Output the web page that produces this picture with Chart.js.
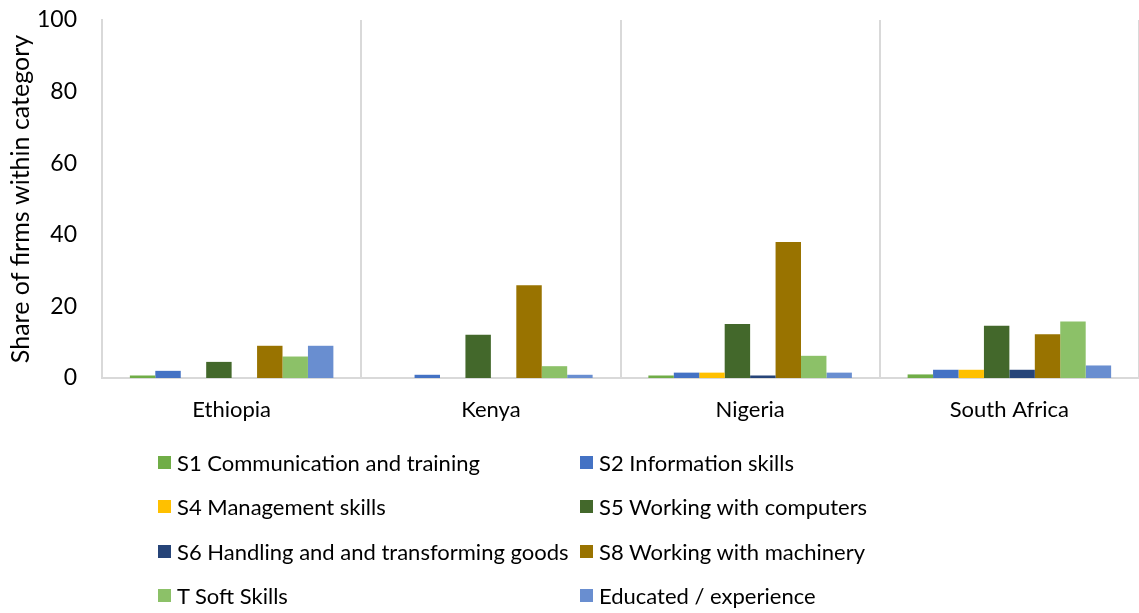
<!DOCTYPE html>
<html>
<head>
<meta charset="utf-8">
<script src="https://cdn.jsdelivr.net/npm/chart.js@4.4.1/dist/chart.umd.min.js"></script>
<style>
    html, body { margin: 0; padding: 0; background: #ffffff; }
    #wrap { position: relative; width: 1139px; height: 613px; }
    #legend {
        position: absolute; left: 158px; top: 447px;
        display: grid; grid-template-columns: 422px 400px; row-gap: 14.5px;
        font-family: Lato, sans-serif; font-size: 22px; color: #000;
    }
    .leg-item { display: flex; align-items: center; height: 30px; white-space: nowrap; }
    .leg-box { width: 13px; height: 13px; margin-right: 6px; }
</style>
</head>
<body>
<div id="wrap">
    <canvas id="chart" width="1139" height="613"></canvas>
    <div id="legend"></div>
</div>
<script>
"use strict";

const countries = ['Ethiopia', 'Kenya', 'Nigeria', 'South Africa'];
const yTicks = [0, 20, 40, 60, 80, 100];

const seriesNames = [
    'S1 Communication and training',
    'S2 Information skills',
    'S4 Management skills',
    'S5 Working with computers',
    'S6 Handling and and transforming goods',
    'S8 Working with machinery',
    'T Soft Skills',
    'Educated / experience'
];
const s1Comm = [0.7, 0, 0.7, 1.0];
const s2Info = [2.0, 0.9, 1.5, 2.3];
const s4Mgmt = [0, 0, 1.5, 2.3];
const s5Comp = [4.5, 12.1, 15.1, 14.6];
const s6Goods = [0, 0, 0.7, 2.3];
const s8Mach = [9.0, 25.9, 38.0, 12.2];
const tSoft = [6.0, 3.3, 6.2, 15.8];
const educated = [9.0, 0.9, 1.5, 3.5];

const seriesColors = ['#70AD47', '#4472C4', '#FFC000', '#43682B', '#264478', '#997300', '#8CC168', '#698ED0'];
const seriesValues = [s1Comm, s2Info, s4Mgmt, s5Comp, s6Goods, s8Mach, tSoft, educated];

document.addEventListener('DOMContentLoaded', function () {
    drawChart();
});

function drawChart() {
    const datasets = [];
    for (let i = 0; i < seriesNames.length; i++) {
        datasets.push({
            label: seriesNames[i],
            data: seriesValues[i],
            backgroundColor: seriesColors[i],
            borderWidth: 0,
            categoryPercentage: 0.785,
            barPercentage: 1.0
        });
    }

    const chart = new Chart(document.getElementById('chart'), {
        type: 'bar',
        data: { labels: countries, datasets: datasets },
        options: {
            responsive: false,
            animation: false,
            layout: { padding: { top: 20, right: 0, left: 6, bottom: 180 } },
            plugins: {
                legend: { display: false },
                tooltip: { enabled: false }
            },
            scales: {
                x: {
                    offset: true,
                    grid: { display: true, offset: true, color: '#d9d9d9', lineWidth: 2, drawTicks: false },
                    border: { display: true, color: '#d9d9d9', width: 2 },
                    ticks: { color: '#000', font: { family: 'Lato', size: 22 }, padding: 19 },
                    afterFit: function (scale) {
                        scale.height = 55;
                        scale.paddingLeft = 0;
                        scale.paddingRight = 0;
                    }
                },
                y: {
                    min: 0, max: 100,
                    afterBuildTicks: function (scale) {
                        scale.ticks = yTicks.map(v => ({ value: v }));
                    },
                    grid: { display: false },
                    border: { display: true, color: '#d9d9d9', width: 2 },
                    ticks: { color: '#000', font: { family: 'Lato', size: 23 }, padding: 17 },
                    title: {
                        display: true, text: 'Share of firms within category', color: '#000',
                        font: { family: 'Lato', size: 25 }, padding: { top: 0, bottom: 0 }
                    },
                    afterFit: function (scale) {
                        scale.width = 96;
                        scale.paddingTop = 0;
                        scale.paddingBottom = 0;
                    }
                }
            }
        }
    });

    // legend in two columns, like the original
    const legendDiv = document.getElementById('legend');
    chart.data.datasets.forEach((ds) => {
        const item = document.createElement('div');
        item.classList.add('leg-item');
        const box = document.createElement('span');
        box.classList.add('leg-box');
        box.style.backgroundColor = ds.backgroundColor;
        item.appendChild(box);
        const txt = document.createElement('span');
        txt.textContent = ds.label;
        item.appendChild(txt);
        legendDiv.appendChild(item);
    });
}
</script>
</body>
</html>
